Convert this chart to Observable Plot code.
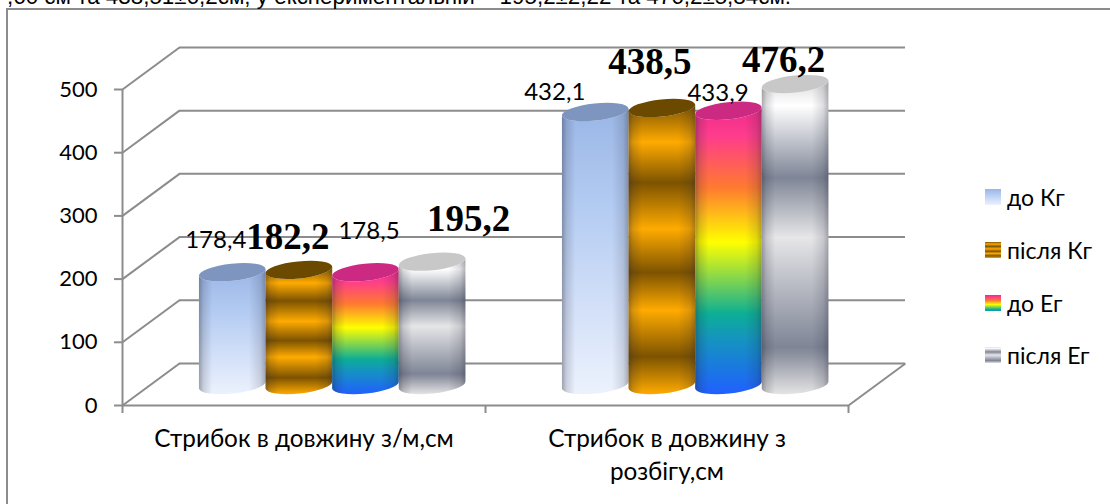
<!DOCTYPE html>
<html><head><meta charset="utf-8">
<script src="https://cdn.jsdelivr.net/npm/d3@7"></script>
<script src="https://cdn.jsdelivr.net/npm/@observablehq/plot@0.6"></script>
<style>
html,body{margin:0;padding:0;background:#fff;}
#page{position:relative;width:1110px;height:504px;overflow:hidden;background:#fff;}
#frame{position:absolute;left:6px;top:8px;width:1200px;height:600px;border:2px solid #8c8c8c;box-sizing:border-box;}
#sentence{position:absolute;left:7px;top:-16px;font:22.4px "Liberation Sans",sans-serif;white-space:nowrap;color:#000;}
#chart{position:absolute;left:0;top:0;}
#legend{position:absolute;left:985px;top:0;font:23px Lato,"Noto Sans",sans-serif;color:#000;}
.li{position:absolute;left:0;white-space:nowrap;display:flex;align-items:center;height:16px;}
.sw{width:16px;height:16px;margin-right:6px;flex:none;}
</style></head><body>
<div id="page"><div id="frame"></div><div id="sentence"></div><div id="chart"></div><div id="legend"></div></div>
<script>
const sentence = ",60 см та 438,51±6,2см; у експериментальній – 195,2±2,22 та 476,2±5,84см.";
const categories = ["Стрибок в довжину з/м,см", "Стрибок в довжину з\nрозбігу,см"];
const seriesNames = ["до Кг", "після Кг", "до Ег", "після Ег"];
const doKg = [178.4, 432.1];
const pisliaKg = [182.2, 438.5];
const doEg = [178.5, 433.9];
const pisliaEg = [195.2, 476.2];
const yTicks = [0, 100, 200, 300, 400, 500];
const seriesValues = [doKg, pisliaKg, doEg, pisliaEg];

// Styling of the cylinders
const ramps = [
  [[0,"#9ab6e6"],[.35,"#b4ccf2"],[.7,"#d3e0f8"],[1,"#ecf2fd"]],
  [[0,"#7d5300"],[.13,"#ffab00"],[.27,"#7d5300"],[.43,"#ffab00"],[.58,"#7d5300"],[.71,"#ffab00"],[.87,"#7d5300"],[1,"#ffab00"]],
  [[0,"#ee2c8c"],[.1,"#ff3c8c"],[.28,"#ff7a30"],[.47,"#ffff00"],[.72,"#0cae96"],[.8,"#1496bc"],[1,"#2060ff"]],
  [[0,"#dcdcdc"],[.08,"#ffffff"],[.31,"#7e8596"],[.33,"#8a909e"],[.5,"#e6e6e8"],[.85,"#7e8596"],[.87,"#8a8f9e"],[1,"#e4e4e4"]]
];
const caps = ["#7d95bf", "#6b4a00", "#cc2a82", "#c8c8c8"];
const gray = "#8c8c8c";
const barW = 0.1835;           // in x units (one category = 1)
const depthX = 0.157;          // back wall offset, x units
const depthY = 66.5;           // back wall offset, y units
const barDepthX = 0.079, barDepthY = 31.6;

const rows = seriesValues.flatMap((vals, s) => vals.map((v, g) => ({s, g, v})));
const x0 = d => d.g + .5 + barDepthX + (d.s - 2) * barW;

const labelNudge = {
  "0-0":[-17,-32],"1-0":[-11.5,-33],"2-0":[3,-41],"3-0":[36,-43],
  "0-1":[-41,-20],"1-1":[-12.5,-46],"2-1":[-11,-18],"3-1":[-12,-24]
};

function cylinder(index, scales, v, dim, ctx, next) {
  const g = d3.select(ctx.document.createElementNS("http://www.w3.org/2000/svg","g"));
  for (const i of index) {
    const l = v.x1[i], r = v.x2[i], b = v.y1[i], t = v.y2[i], s = rows[i].s;
    const rx = (r - l) / 2, tilt = 3.5, ry = 8.5;
    const rot = -Math.atan2(tilt, rx) * 180 / Math.PI;
    const body = `M${l},${t+tilt}L${l},${b+tilt}A${rx},${ry} ${rot} 0 0 ${r},${b-tilt}L${r},${t-tilt}A${rx},${ry} ${rot} 0 1 ${l},${t+tilt}Z`;
    g.append("path").attr("d", body).attr("fill", `url(#ramp${s})`);
    g.append("path").attr("d", body).attr("fill", "url(#shade)");
    g.append("path").attr("d", `M${l},${t+tilt}A${rx},${ry} ${rot} 1 1 ${r},${t-tilt}A${rx},${ry} ${rot} 1 1 ${l},${t+tilt}Z`).attr("fill", caps[s]);
  }
  return g.node();
}

const axisColor = {stroke: gray, strokeWidth: 2};
const plot = Plot.plot({
  width: 1110, height: 504,
  marginLeft: 122, marginRight: 262, marginTop: 89, marginBottom: 99,
  style: {background: "transparent", fontFamily: "Lato, 'Noto Sans', sans-serif", overflow: "visible"},
  x: {domain: [0, 2], axis: null},
  y: {domain: [0, 500], axis: null},
  marks: [
    // back wall
    Plot.ruleY(yTicks, {x1: depthX, x2: 2 + depthX, y: d => d + depthY, ...axisColor}),
    Plot.link(yTicks, {x1: 0, y1: d => d, x2: depthX, y2: d => d + depthY, ...axisColor}),
    Plot.link([0], {x1: 2, y1: 0, x2: 2 + depthX, y2: depthY, ...axisColor}),
    // front axes
    Plot.ruleX([0], {y1: 0, y2: 500, ...axisColor}),
    Plot.ruleY([0], {x1: 0, x2: 2, ...axisColor}),
    Plot.axisX({ticks: [0, 1, 2], tickSize: 8, tickFormat: () => "", ...axisColor}),
    Plot.axisY({ticks: yTicks, tickSize: 8, tickFormat: () => "", ...axisColor}),
    Plot.axisY({ticks: yTicks, tickSize: 0, tickPadding: 25, fontSize: 22, fill: "#000"}),
    Plot.text(categories, {x: (d, i) => i + .5, y: 0, dy: 19, lineAnchor: "top", fontSize: 24.3, lineHeight: 1.33, fill: "#000"}),
    // cylinders
    Plot.rect(rows, {
      x1: x0, x2: d => x0(d) + barW,
      y1: barDepthY, y2: d => d.v + barDepthY,
      render: cylinder
    }),
    // value labels
    ...rows.map(d => {
      const bold = d.s % 2 === 1;
      const [dx, dy] = labelNudge[d.s + "-" + d.g];
      return Plot.text([d], {
        x: x0(d) + barW / 2, y: d.v + barDepthY, dx, dy,
        text: e => String(e.v).replace(".", ","),
        fontSize: bold ? 37 : 24,
        fontWeight: bold ? "bold" : "normal",
        fontFamily: bold ? "'Liberation Serif', serif" : "Lato, 'Noto Sans', sans-serif",
        fill: "#000"
      });
    })
  ]
});

// gradient definitions
const defs = d3.select(plot).insert("defs", ":first-child");
ramps.forEach((ramp, s) => {
  const gr = defs.append("linearGradient").attr("id", "ramp" + s).attr("x1", 0).attr("x2", 0).attr("y1", 0).attr("y2", 1);
  ramp.forEach(([o, c]) => gr.append("stop").attr("offset", o).attr("stop-color", c));
});
const shade = defs.append("linearGradient").attr("id", "shade").attr("x1", 0).attr("x2", 1).attr("y1", 0).attr("y2", 0);
[[0,.38],[.07,.16],[.2,0],[.75,0],[.92,.14],[1,.34]].forEach(([o, a]) =>
  shade.append("stop").attr("offset", o).attr("stop-color", "#223").attr("stop-opacity", a));

document.getElementById("chart").append(plot);
document.getElementById("sentence").textContent = sentence;

const legendTops = [189, 242, 295, 347];
const legend = d3.select("#legend");
seriesNames.forEach((name, s) => {
  const li = legend.append("div").attr("class", "li").style("top", legendTops[s] + "px");
  const swatchRamp = s === 2 ? ramps[2].slice(0, 6) : ramps[s];
  const last = swatchRamp[swatchRamp.length - 1][0];
  li.append("div").attr("class", "sw").style("background",
    "linear-gradient(180deg," + swatchRamp.map(([o, c]) => `${c} ${o / last * 100}%`).join(",") + ")");
  li.append("span").text(name);
});
</script>
</body></html>
